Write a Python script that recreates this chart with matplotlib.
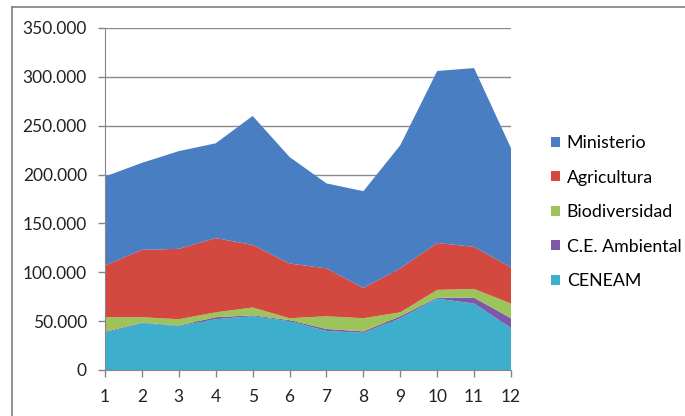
"""Stacked area chart: monthly visits by source"""
import matplotlib
matplotlib.use("Agg")
import matplotlib.pyplot as plt
from matplotlib.patches import Patch
from matplotlib.lines import Line2D
from matplotlib.ticker import FuncFormatter

months = list(range(1, 13))
ceneam = [38000, 48000, 45000, 52000, 55000, 50000, 40000, 38000, 53000, 73000, 68000, 43000]
ce_ambiental = [1000, 500, 500, 2000, 1000, 1000, 2000, 1500, 2000, 1000, 6000, 10000]
biodiversidad = [15000, 5500, 6500, 5000, 8000, 2000, 13000, 13500, 4000, 8000, 9000, 15000]
agricultura = [53000, 69000, 72000, 76000, 64000, 56000, 49000, 31000, 45000, 48000, 43000, 37000]
ministerio = [91000, 89000, 100000, 97000, 132000, 109000, 87000, 99000, 126000, 176000, 183000, 122000]

series_names = ["CENEAM", "C.E. Ambiental", "Biodiversidad", "Agricultura", "Ministerio"]
colors = ["#3eaecd", "#7d58a8", "#9cc45a", "#d3483f", "#4a7ec3"]

plt.rcParams["font.family"] = ["Lato", "DejaVu Sans"]

fig = plt.figure(figsize=(6.85, 4.16), dpi=100)
ax = fig.add_axes([105 / 685, 46 / 416, 406 / 685, 342 / 416])

ax.stackplot(months, ceneam, ce_ambiental, biodiversidad, agricultura, ministerio,
             colors=colors, linewidth=0, zorder=2)

ax.set_xlim(1, 12)
ax.set_ylim(0, 350000)
ax.set_xticks(months)
ax.set_yticks(range(0, 350001, 50000))
ax.yaxis.set_major_formatter(FuncFormatter(lambda v, p: f"{int(v):,}".replace(",", ".")))
ax.grid(axis="y", color="#8a8a8a", linewidth=1, zorder=0)
ax.set_axisbelow(True)
for side in ["top", "right"]:
    ax.spines[side].set_visible(False)
for side in ["left", "bottom"]:
    ax.spines[side].set_color("#868686")
ax.tick_params(axis="both", colors="#868686", labelcolor="#222222", labelsize=12.5, length=5, width=1)
ax.tick_params(axis="y", pad=8)
ax.tick_params(axis="x", pad=9)

# legend, top entry first
handles = [Patch(facecolor=c, edgecolor="none") for c in colors[::-1]]
leg = fig.legend(handles, series_names[::-1], loc="center left", bbox_to_anchor=(0.781, 0.49),
                 frameon=False, fontsize=12.8, handlelength=0.5, handleheight=0.5,
                 handletextpad=0.39, labelspacing=1.04)

# chart area frame (top and left edges visible)
fig.add_artist(Line2D([12 / 685, 1], [1 - 7 / 416, 1 - 7 / 416], color="#7f7f7f", linewidth=1.2))
fig.add_artist(Line2D([12 / 685, 12 / 685], [0, 1 - 7 / 416], color="#7f7f7f", linewidth=1.2))

fig.savefig("out.png", dpi=100)
